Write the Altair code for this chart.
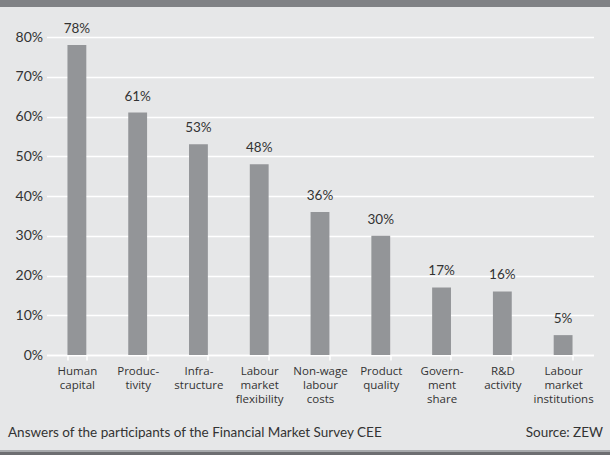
import altair as alt
import pandas as pd

categories = [
    "Human\ncapital", "Produc-\ntivity", "Infra-\nstructure",
    "Labour\nmarket\nflexibility", "Non-wage\nlabour\ncosts", "Product\nquality",
    "Govern-\nment\nshare", "R&D\nactivity", "Labour\nmarket\ninstitutions",
]
values = [78, 61, 53, 48, 36, 30, 17, 16, 5]
y_ticks = [0, 10, 20, 30, 40, 50, 60, 70, 80]
footer_left = ["Answers of the participants of the Financial Market Survey CEE"]
footer_right = ["Source: ZEW"]

FONT = "Lato"
XFONT = "Open Sans"
BG = "#e6e7e8"
BAR = "#939598"
TXT = "#333333"

df = pd.DataFrame({"cat": categories, "val": values})
df["label"] = df["val"].astype(str) + "%"

W, H = 547, 318
PL, PT = 46.5, 37

x_enc = alt.X(
    "cat:N", sort=None, title=None,
    scale=alt.Scale(paddingInner=0.69, paddingOuter=0.345),
    axis=alt.Axis(
        labelExpr="split(datum.label, '\\n')",
        labelAngle=0, labelFont=XFONT, labelFontSize=11.5, labelColor=TXT,
        labelLineHeight=14, labelPadding=5, labelBaseline="top",
        labelOverlap=False, labelBound=False,
        domainColor="white", domainWidth=1.5, tickColor="white", tickSize=5,
        tickWidth=1.5, tickBand="extent", grid=False,
    ),
)

bars = alt.Chart(df).mark_bar(color=BAR).encode(
    x=x_enc,
    y=alt.Y(
        "val:Q", title=None,
        scale=alt.Scale(domain=[0, 80], nice=False),
        axis=alt.Axis(
            values=y_ticks, tickCount=9, labelExpr="datum.value + '%'", labelFont=FONT,
            labelFontSize=14, labelColor=TXT, labelPadding=4, ticks=False,
            labelOverlap=False, labelBound=False, labelFlush=False,
            domain=False, grid=True, gridColor="white", gridWidth=1.5,
        ),
    ),
)

labels = alt.Chart(df).mark_text(
    font=FONT, fontSize=13.5, color=TXT, dy=-9, baseline="bottom"
).encode(x=alt.X("cat:N", sort=None), y="val:Q", text="label:N")

top_band = alt.Chart(pd.DataFrame({"k": [0]})).mark_rect(color="#808285", clip=False).encode(
    x=alt.value(-PL), x2=alt.value(610 - PL), y=alt.value(-PT), y2=alt.value(7 - PT)
)
bottom_line1 = alt.Chart(pd.DataFrame({"k": [0]})).mark_rect(color="#a7a9ac", clip=False).encode(
    x=alt.value(-PL), x2=alt.value(610 - PL), y=alt.value(450 - PT), y2=alt.value(452 - PT)
)
bottom_line2 = alt.Chart(pd.DataFrame({"k": [0]})).mark_rect(color="#6d6e71", clip=False).encode(
    x=alt.value(-PL), x2=alt.value(610 - PL), y=alt.value(452 - PT), y2=alt.value(455 - PT)
)

foot_l = alt.Chart(pd.DataFrame({"t": footer_left})).mark_text(
    font=FONT, fontSize=13.5, color=TXT, align="left", baseline="alphabetic"
).encode(x=alt.value(8 - PL), y=alt.value(437 - PT), text="t:N")
foot_r = alt.Chart(pd.DataFrame({"t": footer_right})).mark_text(
    font=FONT, fontSize=13.5, color=TXT, align="right", baseline="alphabetic"
).encode(x=alt.value(603 - PL), y=alt.value(437 - PT), text="t:N")

chart = alt.layer(bars, labels, top_band, bottom_line1, bottom_line2, foot_l, foot_r).properties(
    width=W, height=H,
    padding={"left": PL, "top": PT, "right": 610 - PL - W, "bottom": 455 - PT - H},
    autosize=alt.AutoSizeParams(type="none"),
    background=BG,
).configure_view(stroke=None, fill=BG)

chart.save("out.html", embed_options={"renderer": "svg", "actions": False})
